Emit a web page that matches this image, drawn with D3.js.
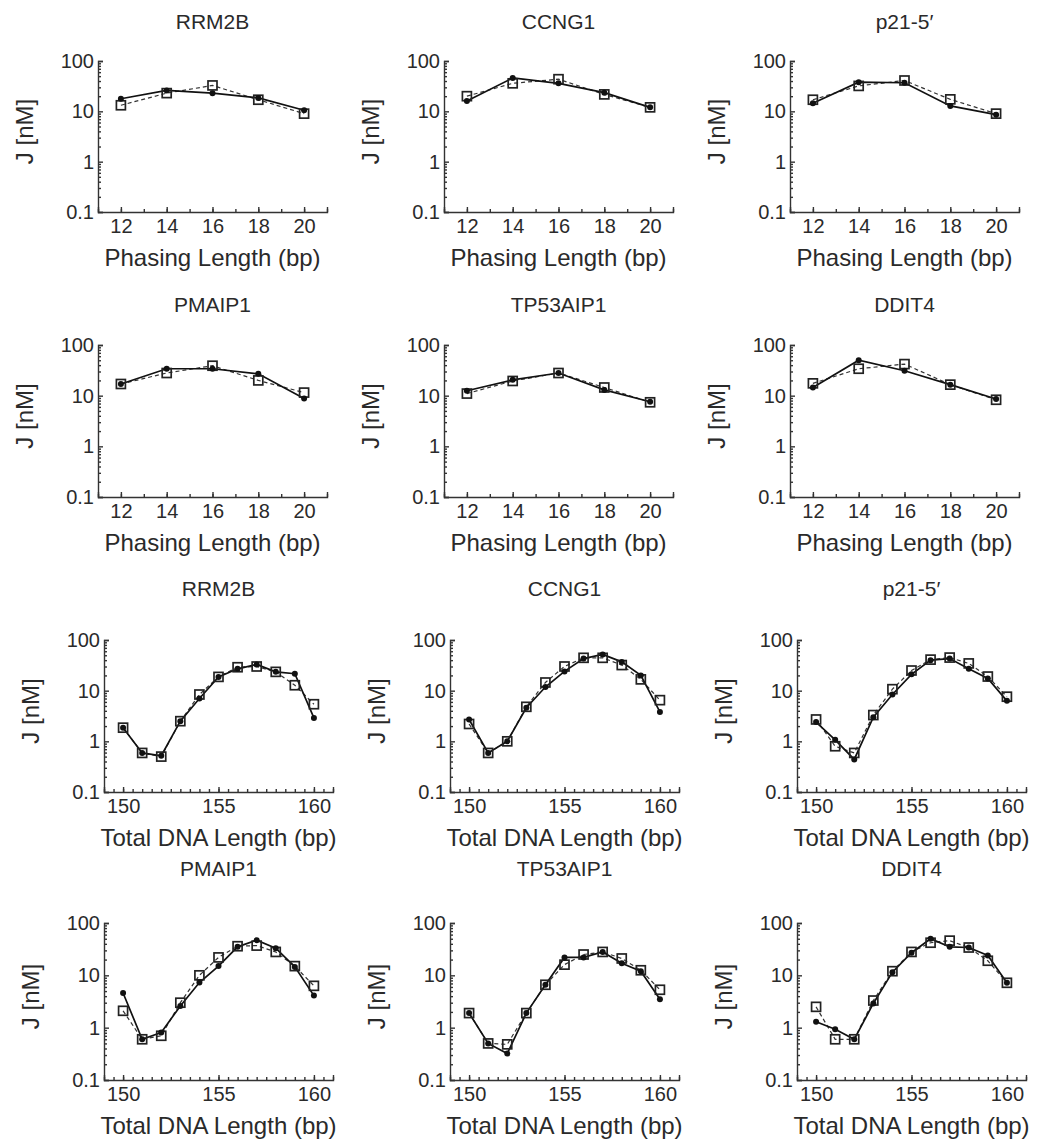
<!DOCTYPE html>
<html lang="en">
<head>
    <meta charset="UTF-8">
    <title>J vs phasing / total DNA length</title>
    <script src="https://d3js.org/d3.v7.min.js"></script>
    <style>
        body {
            margin: 0;
            background-color: white;
        }
        svg text {
            font-family: "Liberation Sans", Arial, sans-serif;
            fill: #2a2a2a;
        }
    </style>
</head>
<body>
    <div id="chart"></div>
    <script>
        // gene names, one per column / row block
        const geneNames = ["RRM2B", "CCNG1", "p21-5\u2032", "PMAIP1", "TP53AIP1", "DDIT4"];

        const phasingLengths = [12, 14, 16, 18, 20];
        const totalLengths = [150, 151, 152, 153, 154, 155, 156, 157, 158, 159, 160];
        const yTickValues = [0.1, 1, 10, 100];

        // J [nM] for phasing length, solid line with filled circles
        const phaseSolid = [
            [17.8, 26, 23, 18.5, 10.5],
            [16, 46, 36, 23.5, 12],
            [14.5, 38, 37, 12.8, 8.6],
            [17, 34, 34, 27, 8.8],
            [12.5, 20.5, 28, 13, 7.6],
            [14.5, 50, 31, 16.5, 8.6]
        ];
        // J [nM] for phasing length, dashed line with open squares
        const phaseDashed = [
            [13.2, 23, 32.7, 17, 9],
            [20, 36, 43.5, 21.7, 12],
            [17, 32, 41, 17.3, 9],
            [17, 28, 39, 20, 11.5],
            [11, 19.5, 28, 14.5, 7.4],
            [17.5, 34, 42, 16.5, 8.3]
        ];

        // J [nM] for total DNA length, solid line with filled circles
        const totalSolid = [
            [1.86, 0.59, 0.52, 2.5, 7, 18.7, 27, 33, 23.5, 21.6, 2.9],
            [2.7, 0.59, 1.0, 4.6, 11.8, 24, 43, 52, 37, 20, 3.8],
            [2.4, 1.07, 0.44, 3.0, 8.4, 21, 40, 43, 27, 17.4, 6.3],
            [4.6, 0.6, 0.81, 2.6, 7.3, 15, 35, 47, 33, 14.5, 4.1],
            [1.9, 0.5, 0.32, 1.9, 6.6, 22, 22, 28, 17, 12, 3.5],
            [1.3, 0.93, 0.6, 2.9, 11.5, 27, 50, 35, 34, 24, 7.2]
        ];
        // J [nM] for total DNA length, dashed line with open squares
        const totalDashed = [
            [1.86, 0.59, 0.5, 2.5, 8.4, 18.7, 29, 30, 23.5, 12.8, 5.4],
            [2.2, 0.59, 1.0, 4.8, 14.5, 30, 44.5, 44.5, 32, 16.7, 6.5],
            [2.7, 0.8, 0.59, 3.3, 10.7, 25, 41, 45, 34.5, 19, 7.6],
            [2.1, 0.6, 0.7, 3.0, 10, 22, 36, 37, 28, 15, 6.3],
            [1.9, 0.5, 0.48, 1.9, 6.6, 16, 25, 28, 21, 12.5, 5.3],
            [2.5, 0.6, 0.6, 3.3, 12, 28, 42, 46, 34, 19, 7.2]
        ];

        const width = 1039, height = 1142;
        const plotW = 229;
        const rowTops = [61, 345, 640, 923];
        const rowHeights = [151, 152, 152, 157];
        const rowTitleY = [22, 305, 589, 869];
        const phaseLefts = [98, 444, 790];
        const totalLefts = [104, 450, 797];

        const svg = d3.select("#chart").append("svg")
            .attr("width", width)
            .attr("height", height);

        function drawPanel(row, col, gene, xs, solid, dashed, isTotal) {
            const left = isTotal ? totalLefts[col] : phaseLefts[col];
            const top = rowTops[row];
            const h = rowHeights[row];

            const x = d3.scaleLinear()
                .domain(isTotal ? [149, 161] : [11, 21])
                .range([0, plotW]);
            const y = d3.scaleLog()
                .domain([0.1, 100])
                .range([h, 0]);

            const g = svg.append("g").attr("transform", `translate(${left},${top})`);

            // panel title
            svg.append("text")
                .attr("x", left + plotW / 2)
                .attr("y", rowTitleY[row])
                .attr("dy", "0.35em")
                .attr("text-anchor", "middle")
                .style("font-size", "21px")
                .text(gene);

            // minor y ticks (2..9 of each decade)
            const minorY = [];
            [0.1, 1, 10].forEach(d => {
                for (let k = 2; k < 10; k++) minorY.push(d * k);
            });
            g.append("g")
                .call(d3.axisLeft(y).tickValues(minorY).tickSize(-3).tickFormat(""))
                .call(a => a.select(".domain").remove());

            // major y axis
            g.append("g")
                .call(d3.axisLeft(y).tickValues(yTickValues).tickSize(-5).tickPadding(4)
                    .tickFormat(d => d < 1 ? "0.1" : String(d)))
                .call(a => a.selectAll("text").style("font-size", "20px"));

            // x axis
            const majorX = isTotal ? [150, 155, 160] : phasingLengths;
            const minorX = isTotal ? d3.range(149, 161.01, 0.5) : d3.range(11, 21.01, 1);
            g.append("g")
                .attr("transform", `translate(0,${h})`)
                .call(d3.axisBottom(x).tickValues(minorX).tickSize(-3).tickFormat(""))
                .call(a => a.select(".domain").remove());
            g.append("g")
                .attr("transform", `translate(0,${h})`)
                .call(d3.axisBottom(x).tickValues(majorX).tickSize(-5).tickPadding(7))
                .call(a => a.selectAll("text").style("font-size", "20px"));

            g.selectAll(".domain, .tick line")
                .attr("stroke", "#333")
                .attr("stroke-width", 1.4);

            // axis titles
            g.append("text")
                .attr("x", plotW / 2)
                .attr("y", h + 46)
                .attr("dy", "0.35em")
                .attr("text-anchor", "middle")
                .style("font-size", "24px")
                .text(isTotal ? "Total DNA Length (bp)" : "Phasing Length (bp)");
            g.append("text")
                .attr("transform", `translate(-73,${h / 2 - 5}) rotate(-90)`)
                .attr("dy", "0.35em")
                .attr("text-anchor", "middle")
                .style("font-size", "24px")
                .text("J [nM]");

            const line = d3.line()
                .x(d => x(d[0]))
                .y(d => y(d[1]));

            const dashedPts = xs.map((v, i) => [v, dashed[i]]);
            const solidPts = xs.map((v, i) => [v, solid[i]]);

            g.append("path")
                .datum(dashedPts)
                .attr("d", line)
                .attr("fill", "none")
                .attr("stroke", "#333")
                .attr("stroke-width", 1.2)
                .attr("stroke-dasharray", "4,3");
            g.append("path")
                .datum(solidPts)
                .attr("d", line)
                .attr("fill", "none")
                .attr("stroke", "#111")
                .attr("stroke-width", 1.7);

            g.selectAll(".sq")
                .data(dashedPts)
                .join("rect")
                .attr("class", "sq")
                .attr("x", d => x(d[0]) - 4.5)
                .attr("y", d => y(d[1]) - 4.5)
                .attr("width", 9)
                .attr("height", 9)
                .attr("fill", "none")
                .attr("stroke", "#222")
                .attr("stroke-width", 1.7);
            g.selectAll(".dot")
                .data(solidPts)
                .join("circle")
                .attr("class", "dot")
                .attr("cx", d => x(d[0]))
                .attr("cy", d => y(d[1]))
                .attr("r", 3)
                .attr("fill", "#111");
        }

        // rows 0-1: phasing length, rows 2-3: total DNA length
        geneNames.forEach((gene, i) => {
            const block = Math.floor(i / 3), col = i % 3;
            drawPanel(block, col, gene, phasingLengths, phaseSolid[i], phaseDashed[i], false);
            drawPanel(block + 2, col, gene, totalLengths, totalSolid[i], totalDashed[i], true);
        });
    </script>
</body>
</html>
